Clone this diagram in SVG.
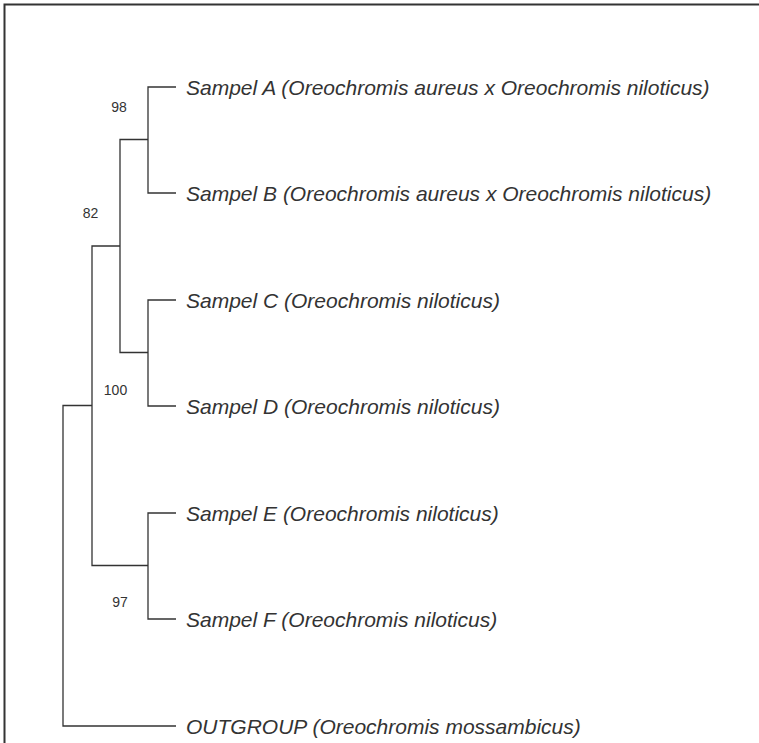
<svg xmlns="http://www.w3.org/2000/svg" width="759" height="743" viewBox="0 0 759 743">
<style>
.frame{fill:none;stroke:#333;stroke-width:2}
.br{fill:none;stroke:#333;stroke-width:1.3}
.leaf{font-family:"Liberation Sans",Arial,sans-serif;font-style:italic;font-size:21px;fill:#333}
.bs{font-family:"Liberation Sans",Arial,sans-serif;font-size:14px;fill:#333}
</style>
<rect width="759" height="743" fill="#fff"/>
<path class="frame" d="M4.5 743 V4.5 H759"/>
<g id="connectors">
<path class="br" d="M176 87 H148 V193 H176"/>
<path class="br" d="M176 300 H148 V406 H176"/>
<path class="br" d="M176 513 H148 V619 H176"/>
<path class="br" d="M148 139.5 H120 V352.5 H148"/>
<path class="br" d="M120 246 H92 V565.5 H148"/>
<path class="br" d="M92 405.5 H63 V726 H176"/>
</g>
<g id="leafA"><text class="leaf" x="186" y="95">Sampel A (Oreochromis aureus x Oreochromis niloticus)</text></g>
<g id="leafB"><text class="leaf" x="186" y="201">Sampel B (Oreochromis aureus x Oreochromis niloticus)</text></g>
<g id="leafC"><text class="leaf" x="186" y="308">Sampel C (Oreochromis niloticus)</text></g>
<g id="leafD"><text class="leaf" x="186" y="414">Sampel D (Oreochromis niloticus)</text></g>
<g id="leafE"><text class="leaf" x="186" y="521">Sampel E (Oreochromis niloticus)</text></g>
<g id="leafF"><text class="leaf" x="186" y="627">Sampel F (Oreochromis niloticus)</text></g>
<g id="outgroup"><text class="leaf" x="186" y="734">OUTGROUP (Oreochromis mossambicus)</text></g>
<g id="bs98"><text class="bs" x="119" y="112" text-anchor="middle">98</text></g>
<g id="bs82"><text class="bs" x="90.5" y="218" text-anchor="middle">82</text></g>
<g id="bs100"><text class="bs" x="115.5" y="395" text-anchor="middle">100</text></g>
<g id="bs97"><text class="bs" x="120" y="607" text-anchor="middle">97</text></g>
</svg>
